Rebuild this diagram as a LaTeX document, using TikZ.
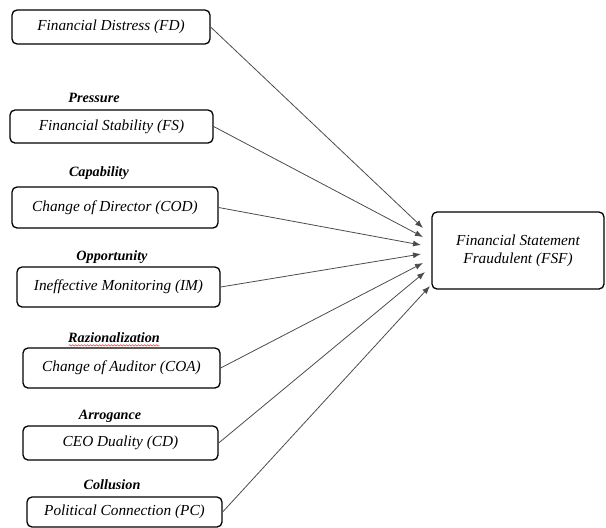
\documentclass[tikz,border=0pt]{standalone}
\usepackage{fontspec}
\setmainfont{Liberation Serif}
\usepackage{tikz}
\usetikzlibrary{positioning}
\usetikzlibrary{arrows.meta}
\usetikzlibrary{decorations.pathmorphing}

\begin{document}
\begin{tikzpicture}[
	x=1pt,y=-1pt,
	font=\fontsize{15.3}{18}\selectfont\itshape
]
\tikzset{
    varbox/.style = {rectangle, rounded corners=5pt, draw=black, line width=1.3pt, align=center, inner sep=2pt},
    dimlabel/.style = {font=\fontsize{14.2}{16}\selectfont\bfseries\itshape},
    link/.style = {draw=black!70, line width=0.8pt, -{Latex[length=8pt,width=6pt]}}
}
\useasboundingbox (0,0) rectangle (606,528);
% independent variables
\node[varbox,minimum width=198pt,minimum height=34pt] (fd) at (111,27) {Financial Distress (FD)};
\node[dimlabel] (pressure) at (94,98) {Pressure};
\node[varbox,minimum width=203pt,minimum height=33pt] (fs) at (111.5,126.5) {Financial Stability (FS)};
\node[dimlabel] (capability) at (99,173) {Capability};
\node[varbox,minimum width=206pt,minimum height=41pt] (cod) at (115,207.5) {Change of Director (COD)};
\node[dimlabel] (opportunity) at (112,257) {Opportunity};
\node[varbox,minimum width=203pt,minimum height=40pt] (im) at (118.5,287) {Ineffective Monitoring (IM)};
\node[dimlabel] (razionalization) at (114,338) {Razionalization};
\node[varbox,minimum width=197pt,minimum height=40pt] (coa) at (121.5,368) {Change of Auditor (COA)};
\node[dimlabel] (arrogance) at (110,416) {Arrogance};
\node[varbox,minimum width=195pt,minimum height=34pt] (cd) at (120.5,443) {CEO Duality (CD)};
\node[dimlabel] (collusion) at (112,485) {Collusion};
\node[varbox,minimum width=195pt,minimum height=30pt] (pc) at (124.5,512) {Political Connection (PC)};
% dependent variable
\node[varbox,minimum width=172pt,minimum height=77pt] (fsf) at (518,250.5) {Financial Statement\\Fraudulent (FSF)};
% spell check mark
\draw[red!80, line width=0.5pt, decorate, decoration={snake, amplitude=0.7pt, segment length=3pt}]
    ([xshift=4pt,yshift=-2.5pt]razionalization.base west) -- ([xshift=-4pt,yshift=-2.5pt]razionalization.base east);
% arrow ends
\coordinate (t1) at (423,228);
\coordinate (t2) at (423,237);
\coordinate (t3) at (421,245);
\coordinate (t4) at (421,254);
\coordinate (t5) at (423,263);
\coordinate (t6) at (425,272);
\coordinate (t7) at (430,286);
\draw[link] (fd.east) -- (t1);
\draw[link] (fs.east) -- (t2);
\draw[link] (cod.east) -- (t3);
\draw[link] (im.east) -- (t4);
\draw[link] (coa.east) -- (t5);
\draw[link] (cd.east) -- (t6);
\draw[link] (pc.east) -- (t7);
\end{tikzpicture}
\end{document}
